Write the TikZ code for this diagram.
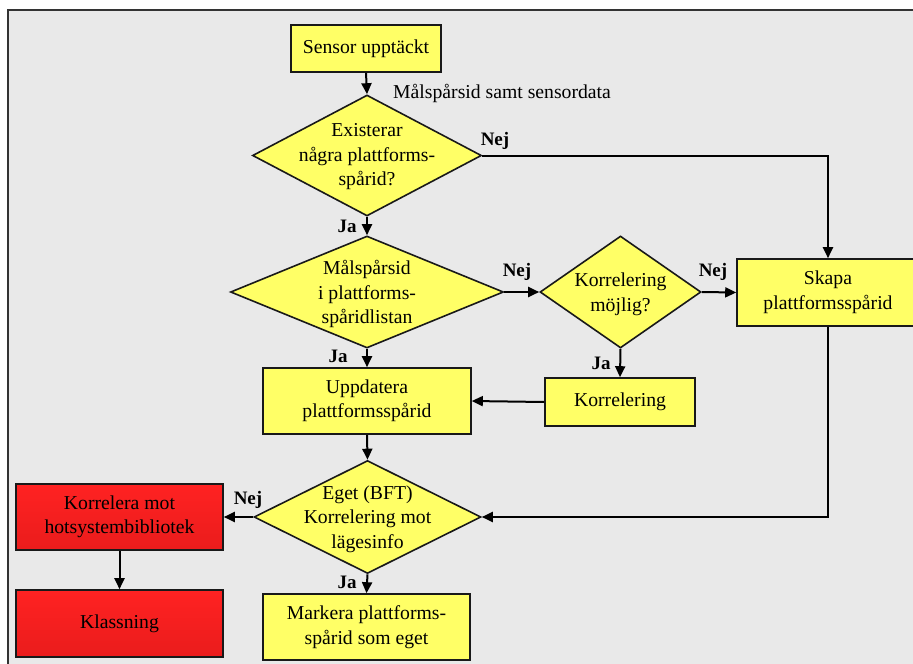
\documentclass[tikz,border=0pt]{standalone}
\usepackage{fontspec}
\setmainfont{Liberation Serif}
\usetikzlibrary{shapes.geometric,arrows.meta}

\definecolor{panelbg}{RGB}{233,233,233}
\definecolor{boxyellow}{RGB}{255,255,102}
\definecolor{redtop}{RGB}{255,34,34}
\definecolor{redbot}{RGB}{234,28,28}

\tikzset{
  every node/.style={font=\fontsize{19.7}{24.5}\selectfont},
  ybox/.style={draw=black!90, line width=1.6pt, fill=boxyellow, rectangle,
    align=center, inner sep=0pt},
  rbox/.style={draw=black!90, line width=1.6pt, rectangle, top color=redtop,
    bottom color=redbot, align=center, inner sep=0pt},
  ydia/.style={draw=black!90, line width=1.6pt, fill=boxyellow, diamond,
    inner sep=0pt},
  diatext/.style={align=center, inner sep=0pt},
  flow/.style={line width=2pt, -{Triangle[length=11pt,width=10pt]}},
  answer/.style={font=\fontsize{19}{22}\selectfont\bfseries, inner sep=0pt},
}

\begin{document}
\begin{tikzpicture}[x=1pt,y=-1pt]
  \useasboundingbox (0,0) rectangle (913,664);
  \clip (0,0) rectangle (913,664);

  % background panel
  \fill[white] (0,0) rectangle (913,664);
  \fill[panelbg] (8,10) rectangle (920,670);
  \draw[line width=1.2pt, black!80] (8,670) -- (8,10) -- (920,10);

  % process boxes
  \node[ybox, minimum width=150pt, minimum height=47pt] (sensor) at (366,48.5) {Sensor upptäckt};
  \node[ybox, minimum width=182pt, minimum height=67pt] (skapa) at (828,292.5) {Skapa\\plattformsspårid};
  \node[ybox, minimum width=150pt, minimum height=48pt] (korr) at (620,402) {Korrelering};
  \node[ybox, minimum width=208pt, minimum height=66pt] (upp) at (367,401) {Uppdatera\\plattformsspårid};
  \node[rbox, minimum width=207pt, minimum height=66pt] (hot) at (119.5,517) {Korrelera mot\\hotsystembibliotek};
  \node[rbox, minimum width=207pt, minimum height=67pt] (klass) at (119.5,623.5) {Klassning};
  \node[ybox, minimum width=207pt, minimum height=66pt] (mark) at (366.5,627) {Markera plattforms-\\spårid som eget};

  % decision diamonds
  \node[ydia, minimum width=229pt, minimum height=121pt] (d1) at (367,155.5) {};
  \node[diatext] at (367,157) {Existerar\\några plattforms-\\spårid?};
  \node[ydia, minimum width=273pt, minimum height=112pt] (d2) at (367,292) {};
  \node[diatext] at (367,294) {Målspårsid\\i plattforms-\\spåridlistan};
  \node[ydia, minimum width=161pt, minimum height=112pt] (d3) at (620.5,292) {};
  \node[diatext] at (620.5,294.5) {Korrelering\\möjlig?};
  \node[ydia, minimum width=227pt, minimum height=113pt] (d4) at (367.5,517) {};
  \node[diatext] at (367.5,519) {Eget (BFT)\\Korrelering mot\\lägesinfo};

  % connectors
  \draw[flow] (sensor.south) -- (d1.north);
  \draw[flow] (d1.east) -| (skapa.north);
  \draw[flow] (d1.south) -- (d2.north);
  \draw[flow] (d2.east) -- (d3.west);
  \draw[flow] (d3.east) -- (skapa.west);
  \draw[flow] (d3.south) -- (korr.north);
  \draw[flow] (korr.west) -- (upp.east);
  \draw[flow] (d2.south) -- (upp.north);
  \draw[flow] (upp.south) -- (d4.north);
  \draw[flow] (skapa.south) |- (d4.east);
  \draw[flow] (d4.west) -- (hot.east);
  \draw[flow] (hot.south) -- (klass.north);
  \draw[flow] (d4.south) -- (mark.north);

  % labels
  \node[anchor=west, inner sep=0pt] (datalbl) at (393,93) {Målspårsid samt sensordata};
  \node[answer] (n1) at (495,141) {Nej};
  \node[answer] (j1) at (347,226) {Ja};
  \node[answer] (n2) at (517,272) {Nej};
  \node[answer] (n3) at (713,272) {Nej};
  \node[answer] (j2) at (338,356) {Ja};
  \node[answer] (j3) at (601,363) {Ja};
  \node[answer] (n4) at (248,500) {Nej};
  \node[answer] (j4) at (347,582) {Ja};
\end{tikzpicture}
\end{document}
